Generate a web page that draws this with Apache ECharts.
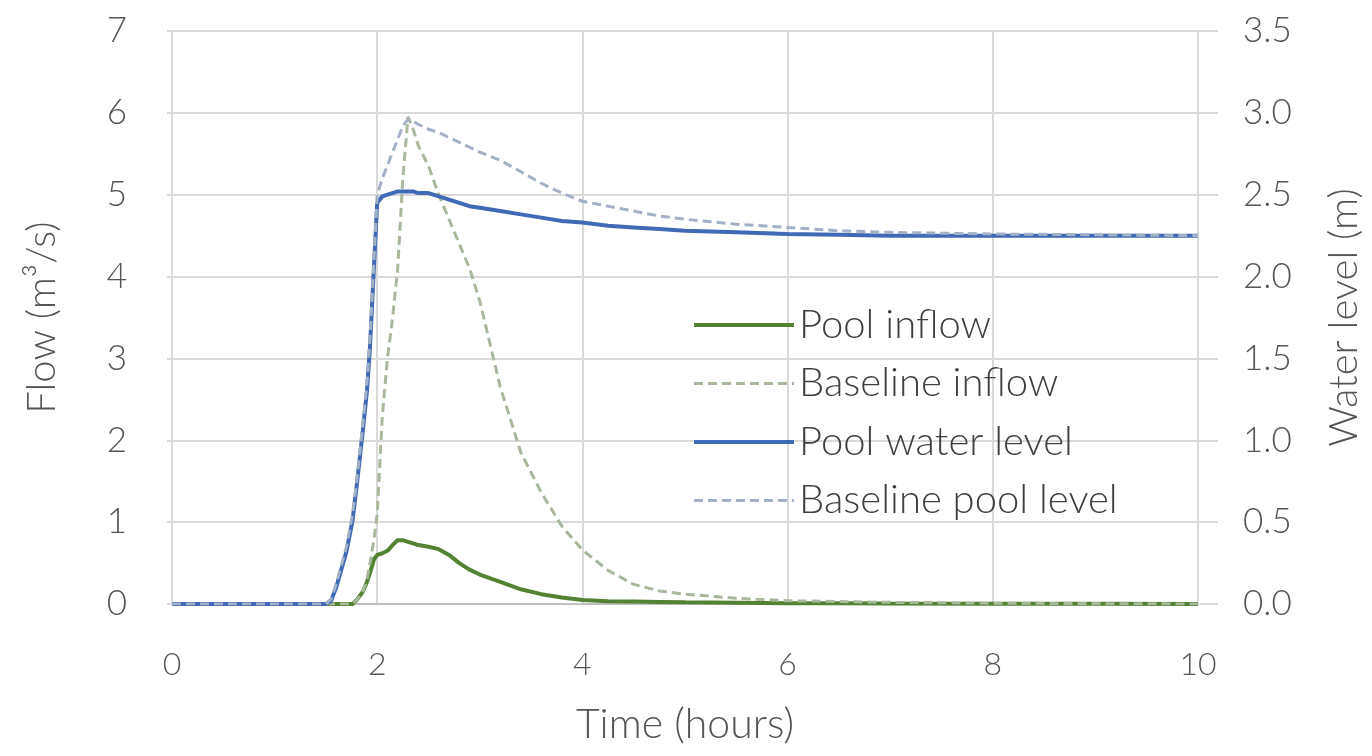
<!DOCTYPE html>
<html>
<head>
<meta charset="utf-8">
<title>Pool inflow and water level</title>
<script src="https://cdn.jsdelivr.net/npm/echarts@6/dist/echarts.min.js"></script>
<style>
  html, body { margin: 0; padding: 0; background: #ffffff; }
  #chart { width: 1372px; height: 756px; }
</style>
</head>
<body>
<div id="chart"></div>
<script>
// Time (hours) shared by all four series
const timeHours = [0, 1.5, 1.55, 1.6, 1.7, 1.76, 1.8, 1.86, 1.9, 1.93, 1.97, 2.0, 2.05, 2.1, 2.15, 2.2, 2.25, 2.3, 2.35, 2.4,
  2.5, 2.6, 2.7, 2.8, 2.9, 3.0, 3.2, 3.4, 3.6, 3.8, 4.0, 4.25, 4.5, 4.75, 5.0, 5.5, 6.0, 6.5, 7.0, 8.0, 9.0, 10.0];

// Flow (m³/s), left axis
const poolInflow = [0, 0, 0, 0, 0, 0, 0.05, 0.15, 0.27, 0.38, 0.55, 0.6, 0.62, 0.65, 0.72, 0.78, 0.78, 0.76, 0.74, 0.72,
  0.70, 0.67, 0.6, 0.5, 0.42, 0.36, 0.27, 0.18, 0.12, 0.08, 0.05, 0.035, 0.03, 0.025, 0.02, 0.015, 0.01, 0.008, 0.005, 0.003, 0.002, 0];
const baselineInflow = [0, 0, 0, 0, 0, 0, 0.05, 0.15, 0.3, 0.5, 0.8, 1.1, 2.3, 3.0, 3.5, 4.1, 5.2, 5.95, 5.8, 5.6,
  5.35, 5.0, 4.7, 4.4, 4.1, 3.7, 2.65, 1.85, 1.36, 0.95, 0.66, 0.41, 0.24, 0.16, 0.12, 0.07, 0.04, 0.03, 0.02, 0.01, 0.005, 0];

// Water level (m), right axis
const poolLevel = [0, 0, 0.02, 0.1, 0.32, 0.51, 0.72, 1.06, 1.3, 1.57, 2.08, 2.45, 2.49, 2.5, 2.51, 2.52, 2.52, 2.52, 2.52, 2.51,
  2.51, 2.49, 2.47, 2.45, 2.43, 2.42, 2.40, 2.38, 2.36, 2.34, 2.33, 2.31, 2.30, 2.29, 2.28, 2.27, 2.26, 2.255, 2.25, 2.25, 2.25, 2.25];
const baselineLevel = [0, 0, 0.03, 0.12, 0.35, 0.55, 0.75, 1.1, 1.35, 1.62, 2.12, 2.5, 2.6, 2.68, 2.76, 2.84, 2.92, 2.96, 2.95, 2.93,
  2.9, 2.88, 2.85, 2.82, 2.79, 2.76, 2.71, 2.64, 2.57, 2.51, 2.46, 2.43, 2.4, 2.37, 2.35, 2.32, 2.3, 2.28, 2.27, 2.26, 2.255, 2.25];

const seriesNames = ['Pool inflow', 'Baseline inflow', 'Pool water level', 'Baseline pool level'];

const pairs = (vals) => timeHours.map((t, i) => [t, vals[i]]);

const FONT = "Lato, 'Open Sans', sans-serif";
const TEXT = '#555555';
const GRID = '#d9d9d9';

const chart = echarts.init(document.getElementById('chart'), null, { renderer: 'canvas' });

chart.setOption({
  backgroundColor: '#ffffff',
  animation: false,
  textStyle: { fontFamily: FONT },
  grid: { left: 172, right: 172, top: 31, bottom: 152 },
  legend: {
    orient: 'vertical',
    left: 687,
    top: 300,
    itemWidth: 100,
    itemHeight: 40,
    itemGap: 18.5,
    data: seriesNames,
    itemStyle: { opacity: 0 },
    lineStyle: { width: 'inherit' },
    textStyle: { fontFamily: FONT, fontSize: 40, fontWeight: 300, color: '#404040', lineHeight: 40 }
  },
  xAxis: {
    type: 'value',
    min: 0, max: 10, interval: 2,
    name: 'Time (hours)',
    nameLocation: 'middle',
    nameGap: 100,
    nameTextStyle: { fontSize: 41, fontWeight: 300, color: TEXT },
    axisLine: { show: true, lineStyle: { color: '#bfbfbf', width: 2 } },
    axisTick: { show: false },
    axisLabel: { fontSize: 32, fontWeight: 300, color: TEXT, margin: 45 },
    splitLine: { show: true, lineStyle: { color: GRID, width: 2 } }
  },
  yAxis: [
    {
      type: 'value',
      min: 0, max: 7, interval: 1,
      name: 'Flow (m³/s)',
      nameLocation: 'middle',
      nameRotate: 90,
      nameGap: 110,
      nameTextStyle: { fontSize: 40, fontWeight: 300, color: TEXT },
      axisLine: { show: true, lineStyle: { color: GRID, width: 2 } },
      axisTick: { show: true, length: 5, lineStyle: { color: GRID, width: 2 } },
      axisLabel: { fontSize: 35, fontWeight: 300, color: TEXT, margin: 45 },
      splitLine: { show: true, lineStyle: { color: GRID, width: 2 } }
    },
    {
      type: 'value',
      min: 0, max: 3.5, interval: 0.5,
      position: 'right',
      name: 'Water level (m)',
      nameLocation: 'middle',
      nameRotate: 90,
      nameGap: 126,
      nameTextStyle: { fontSize: 40, fontWeight: 300, color: TEXT },
      axisLine: { show: true, lineStyle: { color: GRID, width: 2 } },
      axisTick: { show: true, length: 20, lineStyle: { color: GRID, width: 2 } },
      axisLabel: { fontSize: 35, fontWeight: 300, color: TEXT, margin: 45,
        formatter: (v) => v.toFixed(1) },
      splitLine: { show: false }
    }
  ],
  series: [
    {
      name: seriesNames[0], type: 'line', yAxisIndex: 0, symbol: 'none',
      data: pairs(poolInflow),
      lineStyle: { color: '#548235', width: 4 },
      itemStyle: { color: '#548235' }
    },
    {
      name: seriesNames[1], type: 'line', yAxisIndex: 0, symbol: 'none',
      data: pairs(baselineInflow),
      lineStyle: { color: '#a7b89c', width: 3, type: [9, 5] },
      itemStyle: { color: '#a7b89c' }
    },
    {
      name: seriesNames[2], type: 'line', yAxisIndex: 1, symbol: 'none',
      data: pairs(poolLevel),
      lineStyle: { color: '#4169b5', width: 4 },
      itemStyle: { color: '#4169b5' }
    },
    {
      name: seriesNames[3], type: 'line', yAxisIndex: 1, symbol: 'none',
      data: pairs(baselineLevel),
      lineStyle: { color: '#a3b1c6', width: 3, type: [9, 5] },
      itemStyle: { color: '#a3b1c6' }
    }
  ]
});
</script>
</body>
</html>
